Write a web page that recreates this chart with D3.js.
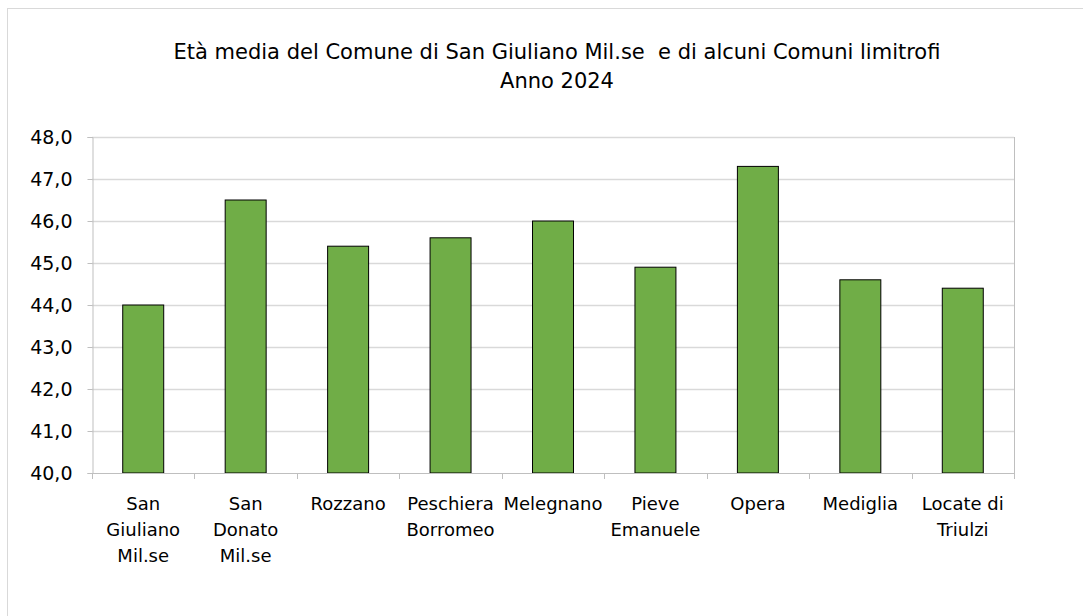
<!DOCTYPE html>
<html>
<head>
<meta charset="utf-8">
<script src="https://cdn.jsdelivr.net/npm/d3@7"></script>
<style>
  html, body { margin: 0; padding: 0; background: #fff; }
  svg { display: block; font-family: "DejaVu Sans", sans-serif; }
  .title { white-space: pre; }
</style>
</head>
<body>
<div id="chart"></div>
<script>
const comuni = [
  ["San", "Giuliano", "Mil.se"],
  ["San", "Donato", "Mil.se"],
  ["Rozzano"],
  ["Peschiera", "Borromeo"],
  ["Melegnano"],
  ["Pieve", "Emanuele"],
  ["Opera"],
  ["Mediglia"],
  ["Locate di", "Triulzi"]
];
const etaMedia = [44.0, 46.5, 45.4, 45.6, 46.0, 44.9, 47.3, 44.6, 44.4];
const yTicks = [40, 41, 42, 43, 44, 45, 46, 47, 48];
const titleLines = ["Età media del Comune di San Giuliano Mil.se  e di alcuni Comuni limitrofi", "Anno 2024"];

const width = 1083, height = 616;
const margin = { left: 92, right: 69, top: 137, bottom: 143 };

const svg = d3.select("#chart").append("svg")
  .attr("width", width)
  .attr("height", height);

// chart area border
svg.append("rect")
  .attr("x", 7.5).attr("y", 8.5)
  .attr("width", width).attr("height", height)
  .attr("fill", "#fff")
  .attr("stroke", "#d9d9d9");

const data = comuni.map((c, i) => ({ key: c.join(" "), lines: c, value: etaMedia[i] }));

const x = d3.scaleBand()
  .domain(data.map(d => d.key))
  .range([margin.left, width - margin.right])
  .paddingInner(0.6)
  .paddingOuter(0.3);

const y = d3.scaleLinear()
  .domain([40, 48])
  .range([height - margin.bottom, margin.top]);

// title
svg.append("g")
  .selectAll("text")
  .data(titleLines)
  .join("text")
  .attr("class", "title")
  .attr("x", 557)
  .attr("y", (d, i) => 59 + i * 29)
  .attr("text-anchor", "middle")
  .attr("font-size", 21)
  .attr("fill", "#000")
  .text(d => d);

// gridlines
svg.append("g")
  .selectAll("line")
  .data(yTicks.slice(1))
  .join("line")
  .attr("x1", margin.left)
  .attr("x2", width - margin.right)
  .attr("y1", d => Math.round(y(d)) + 0.5)
  .attr("y2", d => Math.round(y(d)) + 0.5)
  .attr("stroke", "#d9d9d9")
  .attr("stroke-width", 1.3);

// right edge of plot area
svg.append("line")
  .attr("x1", width - margin.right + 0.5).attr("x2", width - margin.right + 0.5)
  .attr("y1", margin.top).attr("y2", height - margin.bottom)
  .attr("stroke", "#bfbfbf");

// y axis
const yAxis = svg.append("g")
  .attr("transform", `translate(${margin.left + 0.5},0)`)
  .call(d3.axisLeft(y).tickValues(yTicks).tickSize(5).tickFormat(d => d3.format(".1f")(d).replace(".", ",")));
yAxis.select(".domain").attr("stroke", "#bfbfbf");
yAxis.selectAll(".tick line").attr("stroke", "#bfbfbf");
yAxis.selectAll(".tick text")
  .attr("font-size", 19)
  .attr("font-family", "DejaVu Sans, sans-serif")
  .attr("fill", "#000")
  .attr("x", -20);

// bars
svg.append("g")
  .selectAll("rect")
  .data(data)
  .join("rect")
  .attr("x", d => x(d.key))
  .attr("y", d => y(d.value))
  .attr("width", x.bandwidth())
  .attr("height", d => y(40) - y(d.value))
  .attr("fill", "#70ad47")
  .attr("stroke", "#000")
  .attr("stroke-width", 1);

// x axis (ticks between categories)
const step = x.step();
const x0 = margin.left;
const xAxis = svg.append("g");
xAxis.append("line")
  .attr("x1", margin.left).attr("x2", width - margin.right)
  .attr("y1", y(40) + 0.5).attr("y2", y(40) + 0.5)
  .attr("stroke", "#bfbfbf");
xAxis.selectAll("line.tk")
  .data(d3.range(comuni.length + 1))
  .join("line")
  .attr("class", "tk")
  .attr("x1", i => Math.round(x0 + i * step) + 0.5)
  .attr("x2", i => Math.round(x0 + i * step) + 0.5)
  .attr("y1", y(40))
  .attr("y2", y(40) + 6)
  .attr("stroke", "#bfbfbf");

const labels = xAxis.selectAll("text")
  .data(data)
  .join("text")
  .attr("text-anchor", "middle")
  .attr("font-size", 18)
  .attr("fill", "#000")
  .attr("transform", d => `translate(${x(d.key) + x.bandwidth() / 2},${y(40) + 37})`);
labels.selectAll("tspan")
  .data(d => d.lines)
  .join("tspan")
  .attr("x", 0)
  .attr("y", (d, i) => i * 26)
  .text(d => d);
</script>
</body>
</html>
